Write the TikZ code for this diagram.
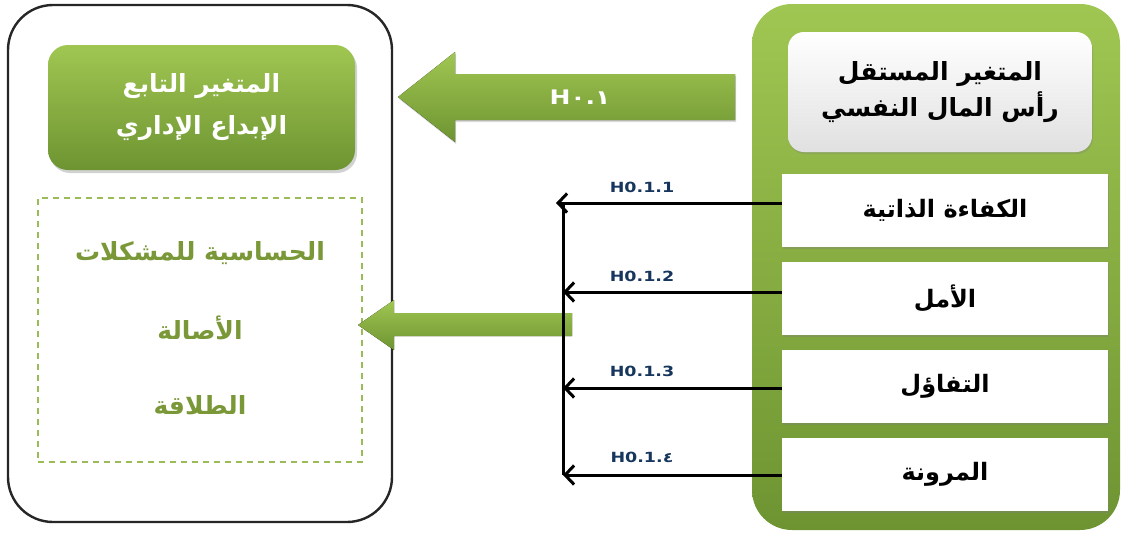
\documentclass[tikz,border=0pt]{standalone}
\usepackage{fontspec}
\TeXXeTstate=1
\newfontfamily\arabicfont[Script=Arabic]{DejaVu Sans}
\newfontfamily\labfont{DejaVu Sans}
\usetikzlibrary{arrows.meta,shadows,calc}
\definecolor{gLight}{RGB}{160,198,82}
\definecolor{gDark}{RGB}{110,148,50}
\definecolor{gText}{RGB}{122,152,56}
\definecolor{navy}{RGB}{23,54,93}
\definecolor{dashgreen}{RGB}{155,187,89}
\begin{document}
\begin{tikzpicture}[x=1pt,y=-1pt,
  outerbox/.style={draw=black!85,line width=2.4pt,rounded corners=45pt,minimum width=384pt,minimum height=517pt,fill=white,inner sep=0pt},
  greenbox/.style={rounded corners=20pt,top color=gLight,bottom color=gDark,draw=none,
     drop shadow={opacity=0.35,shadow xshift=2pt,shadow yshift=-3pt},text=white,align=center,font=\arabicfont\bfseries\fontsize{25}{42}\selectfont},
  dashbox/.style={draw=dashgreen,line width=1.6pt,dash pattern=on 6pt off 5pt,minimum width=324pt,minimum height=264pt,inner sep=0pt},
  greentext/.style={text=gText,font=\arabicfont\bfseries\fontsize{25}{28}\selectfont},
  rightbox/.style={rounded corners=40pt,top color=gLight,bottom color=gDark,draw=none,minimum width=368pt,minimum height=526pt,inner sep=0pt},
  headbox/.style={rounded corners=16pt,top color=white,bottom color=black!12,draw=none,
     drop shadow={opacity=0.3,shadow xshift=1pt,shadow yshift=-2pt},minimum width=304pt,minimum height=120pt,align=center,
     font=\arabicfont\bfseries\fontsize{25}{36}\selectfont},
  itembox/.style={fill=white,draw=none,minimum width=326pt,minimum height=73pt,
     drop shadow={opacity=0.35,shadow xshift=1pt,shadow yshift=-2pt},
     font=\arabicfont\bfseries\fontsize{24}{28}\selectfont},
  hyparrow/.style={line width=3pt,-{Straight Barb[length=9pt,width=19pt,line width=3pt]}},
  hyplabel/.style={text=navy,font=\labfont\bfseries\fontsize{14}{16}\selectfont},
  blockarrow/.style={top color=gLight,bottom color=gDark,draw=none}
]
\useasboundingbox (0,0) rectangle (1126,536);

% ---------- left (dependent variable) ----------
\node[outerbox] (left) at (200,263.5) {};
\node[greenbox,minimum width=307pt,minimum height=125pt] (dep) at (201.5,107.5)
  {\beginR المتغير التابع\endR\\\beginR الإبداع الإداري\endR};
\node[dashbox] (dims) at (200,330) {};
\node[greentext] (d1) at (200,253) {\beginR الحساسية للمشكلات\endR};
\node[greentext] (d2) at (200,328) {\beginR الأصالة\endR};
\node[greentext] (d3) at (200,405) {\beginR الطلاقة\endR};

% ---------- right (independent variable) ----------
\node[rightbox] (right) at (936,267) {};
\node[headbox] (ind) at (940,92)
  {\beginR المتغير المستقل\endR\\\beginR رأس المال النفسي\endR};
\node[itembox] (b1) at (945,210) {\beginR الكفاءة الذاتية\endR};
\node[itembox] (b2) at (945,298) {\beginR الأمل\endR};
\node[itembox] (b3) at (945,386) {\beginR التفاؤل\endR};
\node[itembox] (b4) at (945,474) {\beginR المرونة\endR};

% ---------- big block arrows ----------
\fill[blockarrow,drop shadow={opacity=0.3,shadow xshift=1pt,shadow yshift=-2pt}]
  (398,97) -- (455,52) -- (455,74) -- (735,74) -- (735,120) -- (455,120) -- (455,142) -- cycle;
\node[text=white,font=\labfont\bfseries\fontsize{20}{22}\selectfont] (h01) at (580,97) {\scalebox{1.25}[1]{H٠.١}};

\fill[blockarrow]
  (358,325) -- (394,300) -- (394,313) -- (572,313) -- (572,336) -- (394,336) -- (394,350) -- cycle;

% ---------- hypothesis arrows ----------
\coordinate (t1) at (556,203);
\coordinate (v1) at (563,203);
\coordinate (v2) at (563,292);
\coordinate (v3) at (563,388);
\coordinate (v4) at (563,475);
\draw[line width=3pt] (v1) -- (v4);
\draw[hyparrow] (b1.west |- t1) -- (t1);
\draw[hyparrow] (b2.west |- v2) -- (v2);
\draw[hyparrow] (b3.west |- v3) -- (v3);
\draw[hyparrow] (b4.west |- v4) -- (v4);

\node[hyplabel] (l1) at (642,187) {\scalebox{1.25}[1]{H0.1.1}};
\node[hyplabel] (l2) at (642,276) {\scalebox{1.25}[1]{H0.1.2}};
\node[hyplabel] (l3) at (642,371) {\scalebox{1.25}[1]{H0.1.3}};
\node[hyplabel] (l4) at (642,457) {\scalebox{1.25}[1]{H0.1.٤}};
\end{tikzpicture}
\end{document}
